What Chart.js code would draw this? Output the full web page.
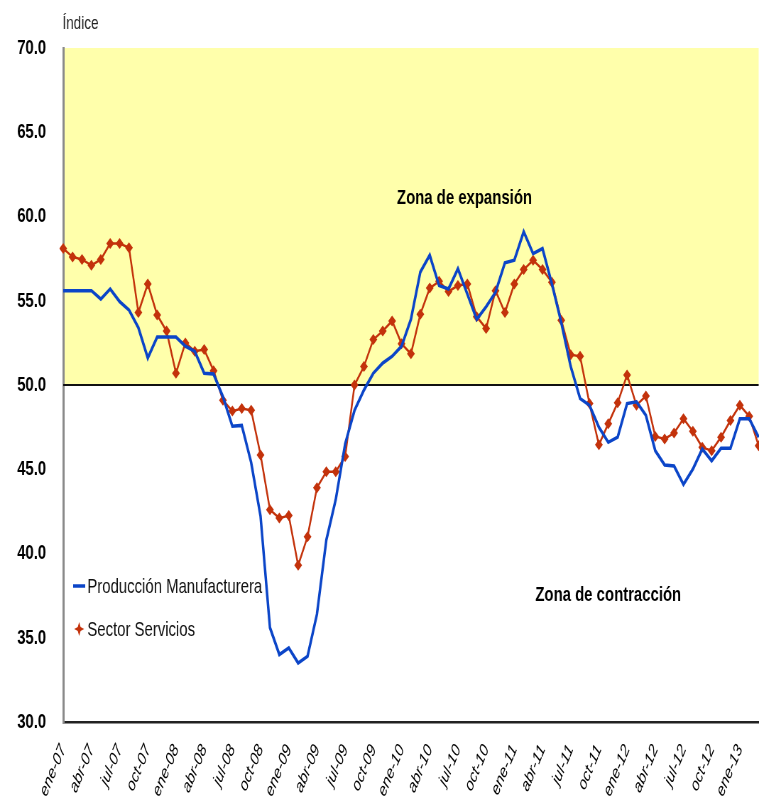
<!DOCTYPE html>
<html>
<head>
<meta charset="utf-8">
<script src="https://cdn.jsdelivr.net/npm/chart.js@4.4.1/dist/chart.umd.min.js"></script>
<style>
html, body { margin: 0; padding: 0; overflow: hidden; background: #fff; width: 759px; height: 805px; }
#wrap { width: 1074px; height: 805px; transform: scaleX(0.71); transform-origin: 0 0; }
canvas { display: block; }
</style>
</head>
<body>
<div id="wrap"><canvas id="c" width="1074" height="805"></canvas></div>
<script>
// ---- categories (ene-07 .. mar-13) ----
const monthNames = ['ene','feb','mar','abr','may','jun','jul','ago','sep','oct','nov','dic'];
const years = ['07','08','09','10','11','12','13'];
const categories = [];
for (const yy of years) for (const m of monthNames) categories.push(m + '-' + yy);
categories.length = 75;
const tickEvery = 3;

// ---- series values ----
const manufactura = [
  55.6, 55.6, 55.6, 55.6, 55.1, 55.7, 54.95, 54.45, 53.4, 51.6, 52.85, 52.85,
  52.85, 52.3, 52.0, 50.7, 50.65, 49.3, 47.55, 47.6, 45.4, 42.2, 35.6, 34.0,
  34.4, 33.5, 33.9, 36.4, 40.8, 43.2, 46.5, 48.5, 49.7, 50.7, 51.3, 51.7,
  52.3, 53.9, 56.7, 57.7, 55.9, 55.7, 56.9, 55.4, 53.9, 54.65, 55.5, 57.25,
  57.4, 59.1, 57.8, 58.1, 56.0, 53.7, 51.1, 49.2, 48.8, 47.5, 46.6, 46.9,
  48.9, 49.0, 48.2, 46.1, 45.25, 45.2, 44.1, 45.0, 46.2, 45.5, 46.25, 46.25,
  48.0, 48.0, 46.9
];
const servicios = [
  58.1, 57.6, 57.45, 57.1, 57.45, 58.4, 58.4, 58.15, 54.3, 56.0, 54.15, 53.2,
  50.7, 52.5, 52.0, 52.1, 50.85, 49.1, 48.45, 48.6, 48.5, 45.85, 42.6, 42.1,
  42.25, 39.3, 41.0, 43.9, 44.85, 44.85, 45.75, 50.0, 51.1, 52.7, 53.2, 53.8,
  52.45, 51.85, 54.2, 55.75, 56.15, 55.55, 55.9, 56.0, 54.05, 53.35, 55.6, 54.3,
  56.0, 56.85, 57.4, 56.85, 56.1, 53.85, 51.8, 51.7, 48.9, 46.45, 47.7, 48.95,
  50.6, 48.8, 49.35, 46.95, 46.8, 47.15, 48.0, 47.25, 46.3, 46.1, 46.9, 47.9,
  48.8, 48.15, 46.4
];
const seriesNames = ['Producción Manufacturera', 'Sector Servicios'];

// ---- y axis ----
const yMin = 30, yMax = 70, yStep = 5;
const threshold = 50;          // línea divisoria expansión / contracción
const expansionTop = 70;

// ---- annotations (data coordinates) ----
const zoneLabels = [
  { text: 'Zona de expansión',   x: 42.7, y: 61.1 },
  { text: 'Zona de contracción', x: 58.0, y: 37.5 }
];
const axisTitle = 'Índice';

const BLUE = '#0B45C8';
const RED = '#C3320B';
const FONT = "'Liberation Sans', Arial, sans-serif";

const zonesPlugin = {
  id: 'zones',
  beforeDraw(chart) {
    const { ctx, chartArea: a, scales: { y } } = chart;
    const top = y.getPixelForValue(expansionTop);
    const mid = y.getPixelForValue(threshold);
    ctx.save();
    ctx.fillStyle = '#FFFFAB';
    ctx.fillRect(a.left, top, a.right - a.left, mid - top);
    ctx.restore();
  },
  beforeDatasetsDraw(chart) {
    const { ctx, chartArea: a, scales: { y } } = chart;
    const mid = y.getPixelForValue(threshold);
    ctx.save();
    ctx.strokeStyle = '#111';
    ctx.lineWidth = 2;
    ctx.beginPath();
    ctx.moveTo(a.left, mid);
    ctx.lineTo(a.right, mid);
    ctx.stroke();
    ctx.restore();
  },
  afterDraw(chart) {
    const { ctx, chartArea: a, scales: { x, y } } = chart;
    ctx.save();
    // zone labels
    ctx.fillStyle = '#000';
    ctx.font = 'bold 21px ' + FONT;
    ctx.textAlign = 'center';
    ctx.textBaseline = 'middle';
    for (const z of zoneLabels) {
      ctx.fillText(z.text, x.getPixelForValue(z.x), y.getPixelForValue(z.y));
    }
    // axis title
    ctx.font = '19px ' + FONT;
    ctx.fillStyle = '#222';
    ctx.textAlign = 'left';
    ctx.textBaseline = 'alphabetic';
    ctx.fillText(axisTitle, a.left - 1, 29);
    // legend
    const lx = a.left + 14;
    const ly1 = 586, ly2 = 629;
    ctx.strokeStyle = BLUE;
    ctx.lineWidth = 3.5;
    ctx.beginPath();
    ctx.moveTo(lx, ly1);
    ctx.lineTo(lx + 17, ly1);
    ctx.stroke();
    ctx.fillStyle = RED;
    const r = 7, k = 2;
    const cx = lx + 8.5;
    ctx.beginPath();
    ctx.moveTo(cx, ly2 - r);
    ctx.lineTo(cx + k, ly2 - k);
    ctx.lineTo(cx + r, ly2);
    ctx.lineTo(cx + k, ly2 + k);
    ctx.lineTo(cx, ly2 + r);
    ctx.lineTo(cx - k, ly2 + k);
    ctx.lineTo(cx - r, ly2);
    ctx.lineTo(cx - k, ly2 - k);
    ctx.closePath();
    ctx.fill();
    ctx.fillStyle = '#111';
    ctx.font = '21px ' + FONT;
    ctx.textBaseline = 'middle';
    ctx.fillText(seriesNames[0], lx + 20, ly1 + 1);
    ctx.fillText(seriesNames[1], lx + 20, ly2 + 1);
    ctx.restore();
  }
};

new Chart(document.getElementById('c'), {
  type: 'line',
  data: {
    labels: categories,
    datasets: [
      {
        label: seriesNames[0],
        data: manufactura,
        borderColor: BLUE,
        backgroundColor: BLUE,
        borderWidth: 3.5,
        pointRadius: 0,
        tension: 0,
        fill: false
      },
      {
        label: seriesNames[1],
        data: servicios,
        borderColor: RED,
        backgroundColor: RED,
        borderWidth: 2.5,
        pointStyle: 'rectRot',
        pointRadius: 5.5,
        pointBorderWidth: 0,
        pointBackgroundColor: RED,
        pointBorderColor: RED,
        tension: 0,
        fill: false
      }
    ]
  },
  options: {
    responsive: false,
    animation: false,
    devicePixelRatio: 1,
    layout: { padding: { top: 48, left: 0, right: 0, bottom: 0 } },
    plugins: {
      legend: { display: false },
      tooltip: { enabled: false },
      title: { display: false }
    },
    scales: {
      x: {
        type: 'category',
        offset: false,
        grid: { display: false, drawTicks: false },
        border: { display: true, color: '#222', width: 2.5 },
        ticks: {
          autoSkip: false,
          maxRotation: 60,
          minRotation: 60,
          padding: 19,
          color: '#000',
          font: { family: FONT, size: 18, style: 'italic' },
          callback: function (value, index) {
            return index % tickEvery === 0 ? categories[index] : '';
          }
        },
        afterFit(scale) {
          scale.height = 83;
          scale.paddingLeft = 0;
          scale.paddingRight = 0;
        }
      },
      y: {
        min: yMin,
        max: yMax,
        grid: { display: false, drawTicks: false },
        border: { display: true, color: '#8a8a8a', width: 3 },
        ticks: {
          stepSize: yStep,
          padding: 24,
          color: '#000',
          font: { family: FONT, size: 21, weight: 'bold' },
          callback: function (v) { return Number(v).toFixed(1); }
        },
        afterFit(scale) {
          scale.width = 89;
        }
      }
    }
  },
  plugins: [zonesPlugin]
});
</script>
</body>
</html>
